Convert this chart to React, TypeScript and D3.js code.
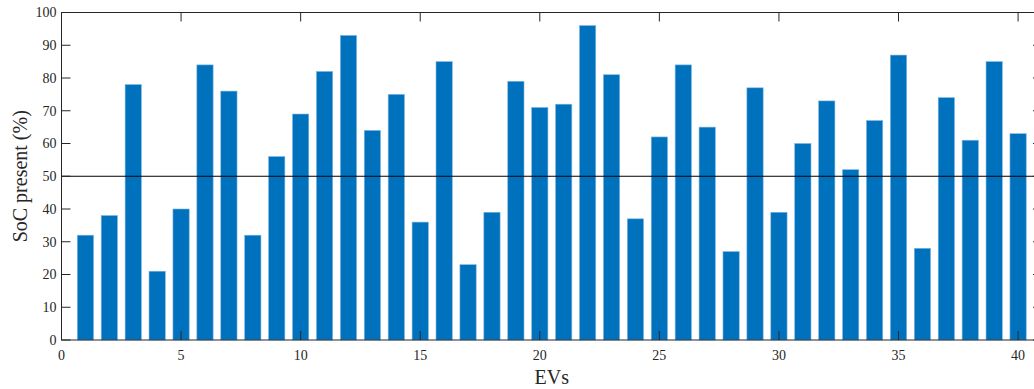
import { useRef, useEffect } from "react";
import * as d3 from "d3";

const evIds = d3.range(1, 41);
const socValues = [
  32, 38, 78, 21, 40, 84, 76, 32, 56, 69, 82, 93, 64, 75, 36, 85, 23, 39, 79, 71,
  72, 96, 81, 37, 62, 84, 65, 27, 77, 39, 60, 73, 52, 67, 87, 28, 74, 61, 85, 63,
];
const xTicks = [0, 5, 10, 15, 20, 25, 30, 35, 40];
const yTicks = [0, 10, 20, 30, 40, 50, 60, 70, 80, 90, 100];
const threshold = 50;

const SocChart = () => {
  const svgRef = useRef<SVGSVGElement>(null);

  useEffect(() => {
    const width = 1034;
    const height = 389;
    const margin = { top: 12.5, left: 61.5, bottom: 49, right: -8 };
    const innerW = width - margin.left - margin.right;
    const innerH = height - margin.top - margin.bottom;

    d3.select(svgRef.current).selectAll("*").remove();

    const svg = d3
      .select(svgRef.current)
      .attr("width", width)
      .attr("height", height)
      .attr("font-family", "'Liberation Serif', 'Times New Roman', serif");

    const g = svg.append("g").attr("transform", `translate(${margin.left},${margin.top})`);

    const x = d3.scaleLinear().domain([0, 41]).range([0, innerW]);
    const y = d3.scaleLinear().domain([0, 100]).range([innerH, 0]);

    const unit = x(1) - x(0);
    const barW = unit * 0.68;

    g.append("g")
      .selectAll("rect")
      .data(evIds)
      .join("rect")
      .attr("x", (d) => x(d) - barW / 2)
      .attr("y", (d, i) => y(socValues[i]))
      .attr("width", barW)
      .attr("height", (d, i) => y(0) - y(socValues[i]))
      .attr("fill", "#0072BD")
      .attr("stroke", "#7fb6e0")
      .attr("stroke-width", 0.6);

    g.append("line")
      .attr("x1", 0)
      .attr("x2", innerW)
      .attr("y1", y(threshold))
      .attr("y2", y(threshold))
      .attr("stroke", "#000")
      .attr("stroke-width", 1);

    const axisColor = "#262626";
    const tickLen = 9;

    // box
    g.append("rect")
      .attr("x", 0)
      .attr("y", 0)
      .attr("width", innerW)
      .attr("height", innerH)
      .attr("fill", "none")
      .attr("stroke", axisColor)
      .attr("stroke-width", 1);

    const xt = g.append("g").attr("stroke", axisColor).attr("stroke-width", 1);
    xTicks.forEach((t) => {
      xt.append("line").attr("x1", x(t)).attr("x2", x(t)).attr("y1", innerH).attr("y2", innerH - tickLen);
      xt.append("line").attr("x1", x(t)).attr("x2", x(t)).attr("y1", 0).attr("y2", tickLen);
    });
    const yt = g.append("g").attr("stroke", axisColor).attr("stroke-width", 1);
    yTicks.forEach((t) => {
      yt.append("line").attr("x1", 0).attr("x2", tickLen).attr("y1", y(t)).attr("y2", y(t));
      yt.append("line").attr("x1", innerW).attr("x2", innerW - tickLen).attr("y1", y(t)).attr("y2", y(t));
    });

    g.append("g")
      .selectAll("text")
      .data(xTicks)
      .join("text")
      .attr("x", (d) => x(d))
      .attr("y", innerH + 20)
      .attr("text-anchor", "middle")
      .attr("font-size", 14)
      .attr("fill", axisColor)
      .text((d) => d);

    g.append("g")
      .selectAll("text")
      .data(yTicks)
      .join("text")
      .attr("x", -5)
      .attr("y", (d) => y(d))
      .attr("dy", "0.35em")
      .attr("text-anchor", "end")
      .attr("font-size", 14)
      .attr("fill", axisColor)
      .text((d) => d);

    svg
      .append("text")
      .attr("x", margin.left + x(20.5))
      .attr("y", 384)
      .attr("text-anchor", "middle")
      .attr("font-size", 20)
      .attr("fill", axisColor)
      .text("EVs");

    svg
      .append("text")
      .attr("transform", `translate(27, ${margin.top + innerH / 2}) rotate(-90)`)
      .attr("text-anchor", "middle")
      .attr("font-size", 20)
      .attr("fill", axisColor)
      .text("SoC present (%)");
  }, []);

  return (
    <div style={{ position: "absolute", left: 0, top: 0, width: 1034, height: 389, overflow: "hidden", background: "#fff" }}>
      <svg ref={svgRef} style={{ display: "block" }}></svg>
    </div>
  );
};

export default function App() {
  return <SocChart />;
}
